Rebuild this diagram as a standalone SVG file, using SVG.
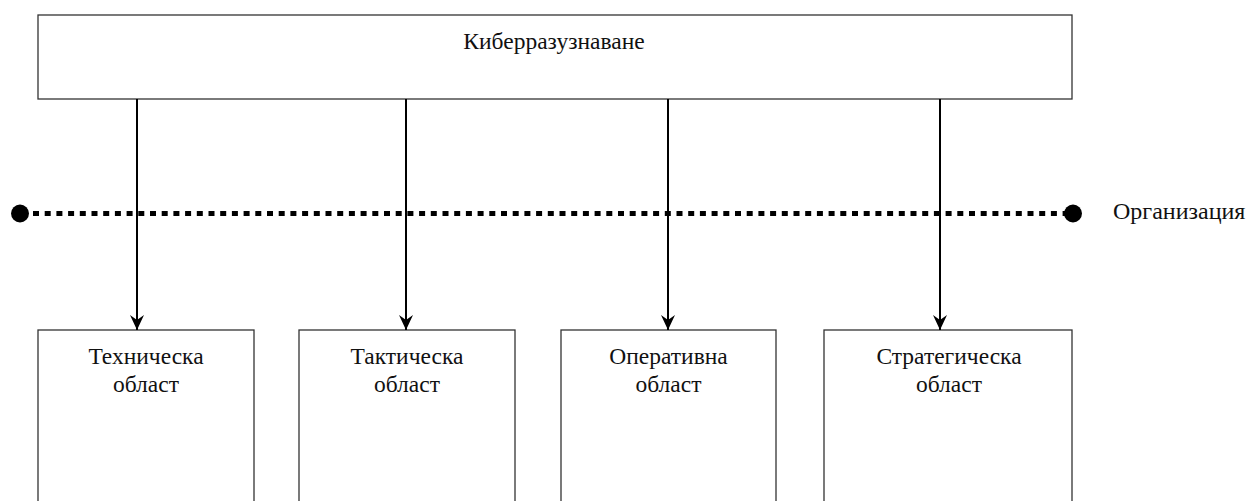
<svg xmlns="http://www.w3.org/2000/svg" width="1250" height="501" viewBox="0 0 1250 501">
<style>
.box{fill:#fff;stroke:#333;stroke-width:1.3}
.t{font-family:"Liberation Serif","Times New Roman",serif;font-size:23.5px;fill:#111;text-anchor:middle}
.conn{stroke:#000;stroke-width:2;fill:none;marker-end:url(#ah)}
</style>
<defs>
<marker id="ah" markerWidth="16" markerHeight="14" refX="15" refY="7" orient="auto" markerUnits="userSpaceOnUse" viewBox="0 0 16 14">
<path d="M0,0 L15,7 L0,14 L5,7 Z" fill="#000"/>
</marker>
</defs>
<g id="top">
<rect class="box" x="38" y="15" width="1034" height="84"/>
<text class="t" x="554" y="49">Киберразузнаване</text>
</g>
<g id="org">
<line x1="33" y1="213.5" x2="1066" y2="213.5" stroke="#000" stroke-width="5" stroke-dasharray="6 5.7"/>
<circle cx="20" cy="213.5" r="9" fill="#000"/>
<circle cx="1073" cy="213.5" r="9" fill="#000"/>
<text x="1113" y="219" font-family="Liberation Serif, serif" font-size="24" fill="#111">Организация</text>
</g>
<g id="n1">
<rect class="box" x="38" y="330" width="216" height="200"/>
<text class="t" x="146" y="364">Техническа</text>
<text class="t" x="146" y="392">област</text>
</g>
<g id="n2">
<rect class="box" x="299" y="330" width="216" height="200"/>
<text class="t" x="407" y="364">Тактическа</text>
<text class="t" x="407" y="392">област</text>
</g>
<g id="n3">
<rect class="box" x="561" y="330" width="215" height="200"/>
<text class="t" x="668.5" y="364">Оперативна</text>
<text class="t" x="668.5" y="392">област</text>
</g>
<g id="n4">
<rect class="box" x="824" y="330" width="248" height="200"/>
<text class="t" x="949" y="364">Стратегическа</text>
<text class="t" x="949" y="392">област</text>
</g>
<g id="connectors">
<line class="conn" x1="137" y1="99" x2="137" y2="330"/>
<line class="conn" x1="406" y1="99" x2="406" y2="330"/>
<line class="conn" x1="668" y1="99" x2="668" y2="330"/>
<line class="conn" x1="940" y1="99" x2="940" y2="330"/>
</g>
</svg>
